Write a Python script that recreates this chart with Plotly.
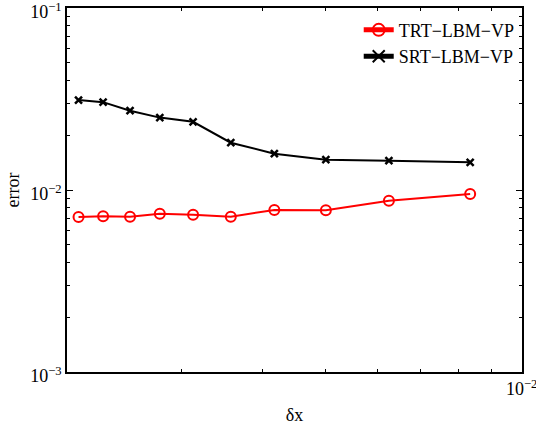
import plotly.graph_objects as go

# data
dx = [1/480, 1/440, 1/400, 1/360, 1/320, 1/280, 1/240, 1/200, 1/160, 1/120]
err_trt = [0.00711, 0.00717, 0.00713, 0.00741, 0.00732, 0.00713, 0.00777, 0.00774, 0.00873, 0.00951]
err_srt = [0.0312, 0.0304, 0.0273, 0.0250, 0.0237, 0.0182, 0.01583, 0.01467, 0.01449, 0.01419]
series_names = ["TRT\u2212LBM\u2212VP", "SRT\u2212LBM\u2212VP"]

x_major = [1e-2]
x_major_text = ["10<sup>\u22122</sup>"]
y_major = [1e-3, 1e-2, 1e-1]
y_major_text = ["10<sup>\u22123</sup>", "10<sup>\u22122</sup>", "10<sup>\u22121</sup>"]
x_minor = [k * 1e-3 for k in range(2, 10)]
y_minor = [k * 10.0**e for e in (-3, -2) for k in range(2, 10)]

FONT = "Liberation Serif, Times New Roman, serif"

fig = go.Figure()
fig.add_trace(go.Scatter(
    x=dx, y=err_trt, name=series_names[0], mode="lines+markers",
    line=dict(color="#ff0000", width=2),
    marker=dict(symbol="circle-open", size=10, color="#ff0000", line=dict(width=2)),
))
fig.add_trace(go.Scatter(
    x=dx, y=err_srt, name=series_names[1], mode="lines+markers",
    line=dict(color="#000000", width=2),
    marker=dict(symbol="x-thin-open", size=7, color="#000000", line=dict(width=2.5)),
))

axis_common = dict(
    type="log", showgrid=False, zeroline=False,
    showline=True, linecolor="#000000", linewidth=1.5, mirror="allticks",
    ticks="inside", ticklen=6, tickcolor="#000000", tickwidth=1,
    tickfont=dict(family=FONT, size=18, color="#000000"),
    ticklabeloverflow="allow",
)

fig.update_xaxes(
    **axis_common,
    range=[-2.69897, -1.9995],
    tickmode="array", tickvals=x_major, ticktext=x_major_text,
    minor=dict(tickmode="array", tickvals=x_minor, ticks="inside", ticklen=3,
               tickcolor="#000000", tickwidth=1, showgrid=False),
    title=dict(text="\u03b4x", font=dict(family=FONT, size=18, color="#000000"), standoff=10),
)
fig.update_yaxes(
    **axis_common,
    range=[-3.0005, -0.9995],
    tickmode="array", tickvals=y_major, ticktext=y_major_text,
    ticklabelshift=4,
    minor=dict(tickmode="array", tickvals=y_minor, ticks="inside", ticklen=3,
               tickcolor="#000000", tickwidth=1, showgrid=False),
    title=dict(text="error", font=dict(family=FONT, size=18, color="#000000"), standoff=6),
)

fig.update_layout(
    width=536, height=428,
    margin=dict(l=67, r=14, t=8, b=56, autoexpand=False),
    paper_bgcolor="#ffffff", plot_bgcolor="#ffffff",
    showlegend=True,
    legend=dict(x=0.995, y=0.99, xanchor="right", yanchor="top",
                bgcolor="rgba(255,255,255,0)", borderwidth=0,
                font=dict(family=FONT, size=18, color="#000000"),
                tracegroupgap=0, itemsizing="constant"),
)

fig.write_html("out.html")
